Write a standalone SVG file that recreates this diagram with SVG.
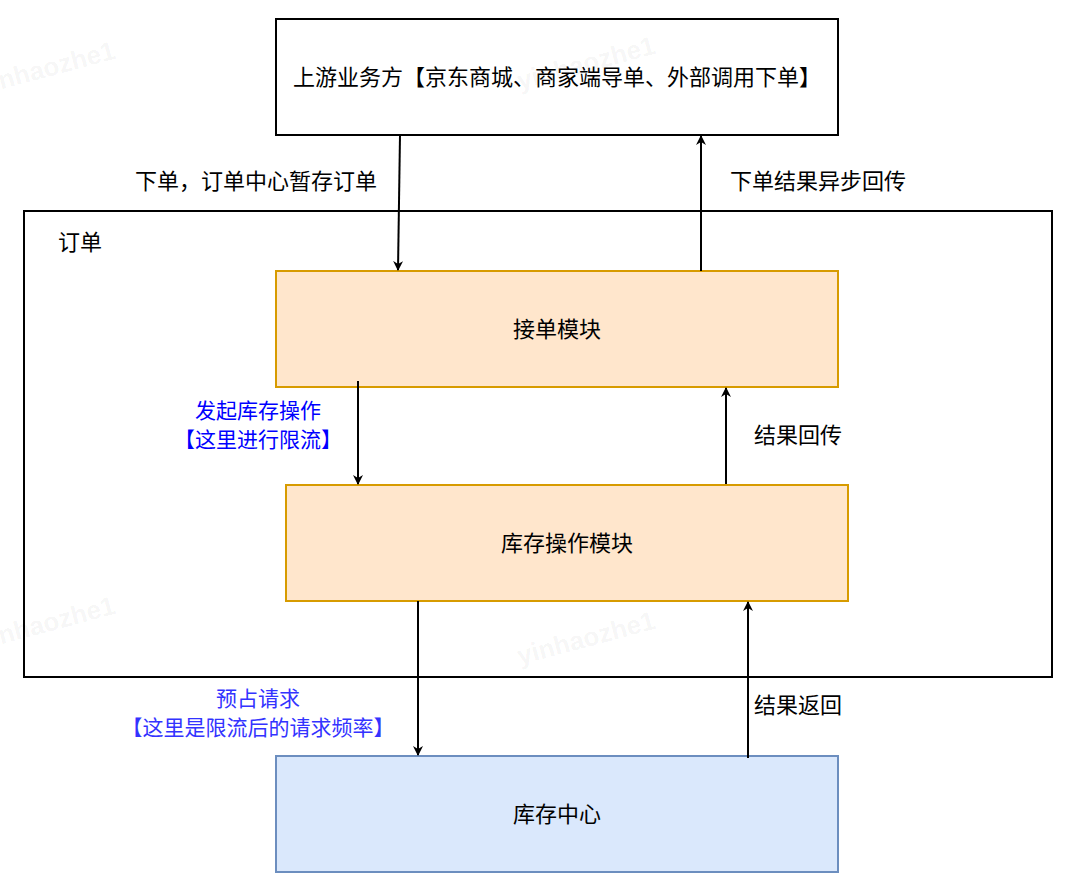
<svg xmlns="http://www.w3.org/2000/svg" width="1074" height="886" viewBox="0 0 1074 886">
<style>
text{font-family:"Noto Sans CJK SC","Liberation Sans",sans-serif;font-size:22px;fill:#000}
.c{text-anchor:middle}
.b{fill:#0000ff;font-size:21px}
.b2{fill:#3333ff;font-size:21px}
.wm{font-family:"Liberation Sans",sans-serif;font-size:26px;font-weight:bold;fill:#000;fill-opacity:0.05}
.box{fill:#fff;stroke:#000;stroke-width:2}
.or{fill:#ffe6cc;stroke:#d79b00;stroke-width:2}
.bl{fill:#dae8fc;stroke:#6c8ebf;stroke-width:2}
.ln{stroke:#000;stroke-width:2;fill:none;marker-end:url(#a)}
</style>
<defs><marker id="a" markerWidth="10" markerHeight="10" refX="9" refY="5" orient="auto" markerUnits="userSpaceOnUse"><path d="M0,0 L10,5 L0,10 L3,5 Z" fill="#000"/></marker></defs>
<g id="outer"><rect class="box" x="24" y="211" width="1028" height="466"/><text x="58" y="250">订单</text></g>
<g id="upstream"><rect class="box" x="276" y="19" width="562" height="116"/><text class="c" x="557" y="85">上游业务方【京东商城、商家端导单、外部调用下单】</text></g>
<g id="jiedan"><rect class="or" x="276" y="271" width="562" height="116"/><text class="c" x="557" y="337">接单模块</text></g>
<g id="kucunop"><rect class="or" x="286" y="485" width="562" height="116"/><text class="c" x="567" y="551">库存操作模块</text></g>
<g id="kucuncenter"><rect class="bl" x="276" y="756" width="562" height="116"/><text class="c" x="557" y="822">库存中心</text></g>
<g id="connectors">
<line class="ln" x1="400" y1="135" x2="398" y2="270"/>
<line class="ln" x1="701" y1="271" x2="701" y2="136"/>
<line class="ln" x1="358" y1="381" x2="358" y2="484"/>
<line class="ln" x1="726" y1="484" x2="726" y2="388"/>
<line class="ln" x1="418" y1="601" x2="418" y2="755"/>
<line class="ln" x1="748" y1="758" x2="748" y2="602"/>
<text class="c" x="256" y="189">下单，订单中心暂存订单</text>
<text class="c" x="818" y="189">下单结果异步回传</text>
<text class="c b" x="258" y="418">发起库存操作</text>
<text class="c b" x="258" y="447">【这里进行限流】</text>
<text class="c" x="798" y="443">结果回传</text>
<text class="c b2" x="258" y="706">预占请求</text>
<text class="c b2" x="258" y="735">【这里是限流后的请求频率】</text>
<text class="c" x="798" y="713">结果返回</text>
</g>
<g id="watermarks">
<text class="wm" x="-20" y="95" transform="rotate(-15 -20 95)">yinhaozhe1</text>
<text class="wm" x="520" y="90" transform="rotate(-15 520 90)">yinhaozhe1</text>
<text class="wm" x="-20" y="650" transform="rotate(-15 -20 650)">yinhaozhe1</text>
<text class="wm" x="520" y="665" transform="rotate(-15 520 665)">yinhaozhe1</text>
</g>
</svg>
